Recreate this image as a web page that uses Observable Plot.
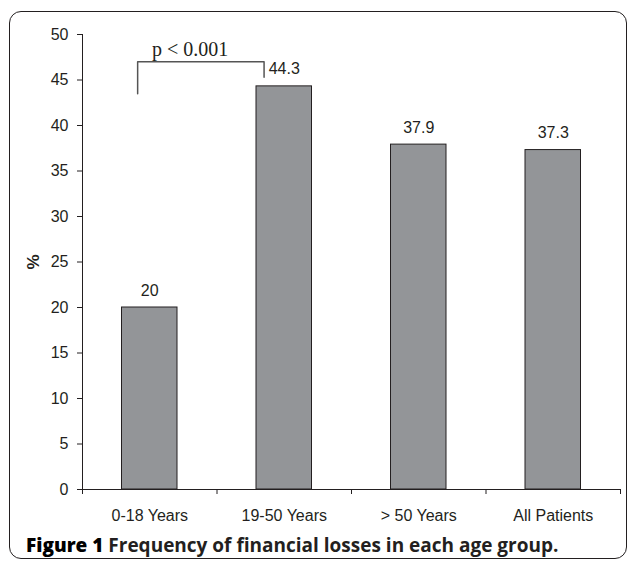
<!DOCTYPE html>
<html>
<head>
<meta charset="utf-8">
<script src="https://cdn.jsdelivr.net/npm/d3@7"></script>
<script src="https://cdn.jsdelivr.net/npm/@observablehq/plot@0.6"></script>
<style>
  html, body { margin: 0; padding: 0; background: #fff; }
  #wrap { position: relative; width: 629px; height: 562px; overflow: hidden; }
  #frame { position: absolute; left: 9px; top: 11px; width: 618px; height: 548px; border: 1.5px solid #231f20; border-radius: 12px; pointer-events: none; box-sizing: border-box; }
  #caption { position: relative; margin-left: 26px; margin-top: 4px; font-family: "Open Sans", "Noto Sans", sans-serif; font-weight: 700; font-size: 19px; line-height: 22px; color: #231f20; white-space: nowrap; }
  #caption b { color: #000; }
  svg { display: block; }
</style>
</head>
<body>
<div id="wrap">
  <div id="chart"></div>
  <div id="caption"><b>Figure 1</b> Frequency of financial losses in each age group.</div>
  <div id="frame"></div>
</div>
<script>
const categories = ["0-18 Years", "19-50 Years", "> 50 Years", "All Patients"];
const values = [20, 44.3, 37.9, 37.3];
const yTicks = [0, 5, 10, 15, 20, 25, 30, 35, 40, 45, 50];
const boundaryTicks = [0, 1, 2, 3, 4];
const bracketX = [0.41, 0.41, 1.35, 1.35];
const bracketY = [43.5, 47, 47, 45.3];
const pLabel = [{x: 0.8, y: 48.3, text: "p < 0.001"}];

const data = categories.map((c, i) => ({category: c, value: values[i], i}));
const bracket = bracketX.map((x, k) => ({x, y: bracketY[k]}));
const ink = "#231f20";

const plot = Plot.plot({
  width: 629,
  height: 530,
  marginLeft: 82,
  marginRight: 9,
  marginTop: 34,
  marginBottom: 41,
  style: {fontFamily: "'Liberation Sans', Arial, sans-serif", fontSize: "16px", color: ink, background: "white"},
  x: {domain: [0, 4]},
  y: {domain: [0, 50]},
  marks: [
    Plot.rectY(data, {x1: d => d.i, x2: d => d.i + 1, y1: 0, y2: "value", insetLeft: 39.5, insetRight: 39.5, fill: "#939598", stroke: ink, strokeWidth: 1}),
    Plot.ruleX([0], {stroke: ink, strokeWidth: 1}),
    Plot.ruleY([0], {stroke: ink, strokeWidth: 1}),
    Plot.axisY({ticks: yTicks, tickSize: 5, tickPadding: 9, label: "%", labelAnchor: "center", labelOffset: 56, labelArrow: "none", fontSize: 16, stroke: ink}),
    Plot.axisX({ticks: boundaryTicks, tickSize: 5, tickFormat: () => "", label: null, stroke: ink}),
    Plot.axisX({ticks: data.map(d => d.i + 0.5), tickSize: 0, tickPadding: 20, tickFormat: d => categories[Math.floor(d)], label: null, fontSize: 16}),
    Plot.text(data, {x: d => d.i + 0.5, y: "value", text: d => String(d.value), dy: -17, fontSize: 16, fill: ink}),
    Plot.line(bracket, {x: "x", y: "y", stroke: "#555", strokeWidth: 1.5}),
    Plot.text(pLabel, {x: "x", y: "y", text: "text", fontFamily: "'Liberation Serif', 'Times New Roman', serif", fontSize: 20, fill: ink})
  ]
});
document.getElementById("chart").appendChild(plot);
// bold "%" axis label
d3.select(plot).selectAll("text").filter(function() { return this.textContent === "%"; }).attr("font-weight", "bold").attr("font-size", 17);
</script>
</body>
</html>
